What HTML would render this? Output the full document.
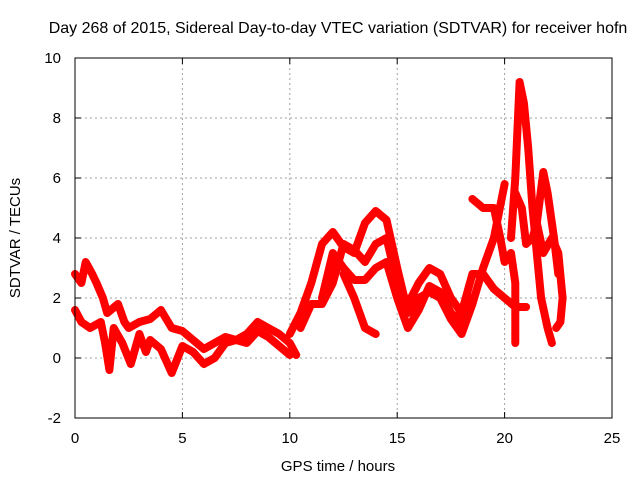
<!DOCTYPE html>
<html><head><meta charset="utf-8"><style>
body{margin:0;background:#fff;}
svg{display:block;font-family:"Liberation Sans",sans-serif;}
</style></head><body>
<svg id="chart" width="640" height="480" viewBox="0 0 640 480">
<rect width="640" height="480" fill="#fff"/>
<text x="338" y="33" font-size="16" text-anchor="middle">Day 268 of 2015, Sidereal Day-to-day VTEC variation (SDTVAR) for receiver hofn</text>
<g id="grid"></g>
<g id="series"></g>
<rect x="75" y="58" width="537" height="360" fill="none" stroke="#000" stroke-width="1"/>
<g id="ticks"></g>
<text x="338" y="471" font-size="15" text-anchor="middle">GPS time / hours</text>
<text x="20" y="238" font-size="15" text-anchor="middle" transform="rotate(-90 20 238)">SDTVAR / TECUs</text>
</svg>
<script>
const xTicks=[0,5,10,15,20,25];
const yTicks=[-2,0,2,4,6,8,10];
const trace1=[[0,2.8],[0.3,2.5],[0.5,3.2],[0.8,2.8],[1,2.5],[1.3,2.0],[1.5,1.5],[2,1.8],[2.3,1.2],[2.5,1.0],[3,1.2],[3.5,1.3],[4,1.6],[4.5,1.0],[5,0.9],[5.5,0.6],[6,0.3],[6.5,0.5],[7,0.7],[7.5,0.6],[8,0.8],[8.5,1.2],[9,1.0],[9.5,0.8],[10,0.5],[10.3,0.1]];
const trace2=[[0,1.6],[0.3,1.2],[0.7,1.0],[1.2,1.2],[1.4,0.5],[1.6,-0.4],[1.8,1.0],[2.2,0.5],[2.6,-0.2],[3,0.8],[3.3,0.2],[3.5,0.6],[4,0.3],[4.5,-0.5],[5,0.4],[5.5,0.2],[6,-0.2],[6.5,0],[7,0.5],[7.5,0.6],[8,0.5],[8.5,0.9],[9,0.7],[9.5,0.4],[10,0.1]];
const trace3=[[10,0.8],[10.5,1.5],[11,2.5],[11.5,3.8],[12,4.2],[12.5,3.7],[13,3.5],[13.5,4.5],[14,4.9],[14.5,4.6],[15,3.0],[15.5,1.5],[16,2.0],[16.5,2.2],[17,2.0],[17.5,1.3],[18,0.8],[18.5,1.8],[19,3.0],[19.5,4.0],[20,5.8]];
const trace4=[[10.5,1.0],[11,1.8],[11.5,1.8],[12,2.5],[12.5,3.8],[13,3.6],[13.5,3.2],[14,3.8],[14.5,4.0],[15,2.5],[15.5,1.8],[16,2.5],[16.5,3.0],[17,2.8],[17.5,2.0],[18,1.5],[18.5,2.8],[19,2.8],[19.5,2.3],[20,2.0],[20.5,1.7],[21,1.7]];
const trace5=[[11.5,2.0],[12,3.5],[12.5,3.0],[13,2.6],[13.5,2.6],[14,3.0],[14.5,3.2],[15,2.0],[15.5,1.0],[16,1.6],[16.5,2.4],[17,2.2],[17.5,1.5],[18,1.2],[18.5,2.0]];
const trace6=[[12.5,2.8],[13,2.0],[13.5,1.0],[14,0.8]];
const trace7=[[18.5,5.3],[19,5.0],[19.5,5.0],[19.8,4.0],[20,3.2],[20.3,3.5],[20.5,2.5],[20.5,0.5]];
const trace8=[[20.3,4],[20.5,6],[20.7,9.2],[20.9,8.5],[21.1,7],[21.3,5],[21.5,3.5],[21.7,2.0],[22,1.0],[22.2,0.5]];
const trace9=[[20.5,5.5],[20.8,5.0],[21,3.8],[21.3,4.0],[21.5,4.5],[21.8,3.5],[22.2,4.0],[22.5,3.5],[22.7,2.0],[22.6,1.2],[22.4,1.0]];
const trace10=[[21.5,4.5],[21.8,6.2],[22,5.5],[22.3,4.0],[22.5,2.8]];
const traces=[trace1,trace2,trace3,trace4,trace5,trace6,trace7,trace8,trace9,trace10];

const X=t=>75+t*537/25;
const Y=v=>58+(10-v)*30;
const NS="http://www.w3.org/2000/svg";
const grid=document.getElementById('grid'),ticks=document.getElementById('ticks'),series=document.getElementById('series');
function ln(par,x1,y1,x2,y2,st,dash){const l=document.createElementNS(NS,'line');l.setAttribute('x1',x1);l.setAttribute('x2',x2);l.setAttribute('y1',y1);l.setAttribute('y2',y2);l.setAttribute('stroke',st);if(dash)l.setAttribute('stroke-dasharray',dash);par.appendChild(l);return l;}
xTicks.forEach(t=>{
  const x=X(t);
  if(t>0&&t<25){const l=ln(grid,x,58,x,418,'#a0a0a0','2,3');
  
  }
  const a=ln(ticks,x,418,x,412,'#000');
  
  
  const b=ln(ticks,x,58,x,64,'#000');
  
  
  const tx=document.createElementNS(NS,'text');tx.setAttribute('x',x);tx.setAttribute('y',443);tx.setAttribute('font-size','15');tx.setAttribute('text-anchor','middle');tx.textContent=t;
  
  
  ticks.appendChild(tx);
});
yTicks.forEach(v=>{
  const y=Y(v);
  if(v>-2&&v<10){const l=ln(grid,75,y,612,y,'#a0a0a0','2,3');
  
  }
  const a=ln(ticks,75,y,81,y,'#000');
  
  
  const b=ln(ticks,612,y,606,y,'#000');
  
  
  const tx=document.createElementNS(NS,'text');tx.setAttribute('x',61);tx.setAttribute('y',y+5);tx.setAttribute('font-size','15');tx.setAttribute('text-anchor','end');tx.textContent=v;
  
  
  ticks.appendChild(tx);
});
traces.forEach((tr,i)=>{
  const p=document.createElementNS(NS,'polyline');
  p.setAttribute('points',tr.map(d=>X(d[0]).toFixed(1)+','+Y(d[1]).toFixed(1)).join(' '));
  p.setAttribute('fill','none');p.setAttribute('stroke','#ff0000');p.setAttribute('stroke-width','8');p.setAttribute('stroke-linejoin','round');p.setAttribute('stroke-linecap','round');
  
  
  series.appendChild(p);
});
</script>
</body></html>
